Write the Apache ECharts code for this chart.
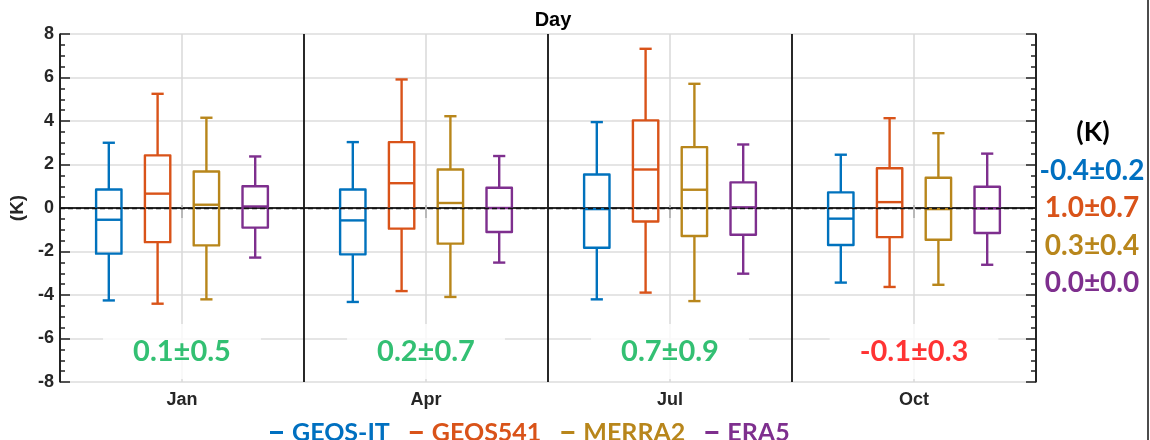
<!DOCTYPE html>
<html><head><meta charset="utf-8">
<script src="https://cdn.jsdelivr.net/npm/echarts@6/dist/echarts.min.js"></script>
<style>html,body{margin:0;padding:0;background:#fff}#c{width:1150px;height:440px}</style>
</head><body><div id="c"></div>
<script>
// ---------- data ----------
const months = ['Jan', 'Apr', 'Jul', 'Oct'];
const seriesNames = ['GEOS-IT', 'GEOS541', 'MERRA2', 'ERA5'];
const yTicks = [-8, -6, -4, -2, 0, 2, 4, 6, 8];
// each entry: [lower whisker, Q1, median, Q3, upper whisker] per month
const geosIT  = [[-4.25, -2.10, -0.54, 0.85, 3.00], [-4.32, -2.13, -0.57, 0.85, 3.03], [-4.20, -1.83, -0.05, 1.54, 3.95], [-3.43, -1.70, -0.49, 0.72, 2.45]];
const geos541 = [[-4.40, -1.57, 0.66, 2.42, 5.25], [-3.82, -0.95, 1.14, 3.03, 5.91], [-3.89, -0.62, 1.77, 4.03, 7.32], [-3.63, -1.34, 0.27, 1.83, 4.13]];
const merra2  = [[-4.20, -1.72, 0.15, 1.68, 4.15], [-4.09, -1.64, 0.23, 1.77, 4.22], [-4.28, -1.29, 0.84, 2.80, 5.71], [-3.53, -1.46, -0.05, 1.39, 3.44]];
const era5    = [[-2.28, -0.90, 0.07, 1.00, 2.37], [-2.51, -1.10, 0.00, 0.93, 2.39], [-3.02, -1.23, 0.03, 1.18, 2.92], [-2.61, -1.15, -0.02, 0.98, 2.50]];
const panelStats  = ['0.1±0.5', '0.2±0.7', '0.7±0.9', '-0.1±0.3'];
const seriesStats = ['-0.4±0.2', '1.0±0.7', '0.3±0.4', '0.0±0.0'];
const statsUnit = '(K)';
const titleText = 'Day';

// ---------- styles ----------
const seriesColors = ['#0072BD', '#D95319', '#B8861B', '#7E2F8E'];
const legendColors = ['#0070C0', '#D95319', '#B8861B', '#7E2F8E'];
const panelStatColors = ['#00B050', '#00B050', '#00B050', '#FF0000'];
const allData = [geosIT, geos541, merra2, era5];
const AX = '#222';
const LBL = '#262626';
const AXIS_FONT = '"Liberation Sans", Arial, sans-serif';
const ANNOT_FONT = 'Lato, "Open Sans", sans-serif';

function makeBox(idx) {
  return {
    name: seriesNames[idx],
    type: 'custom',
    xAxisIndex: 0, yAxisIndex: 0,
    z: 3,
    silent: true,
    itemStyle: { color: seriesColors[idx] },
    encode: { x: 0, y: [1, 2, 3, 4, 5] },
    data: allData[idx].map((v, i) => [i].concat(v)),
    renderItem: function (params, api) {
      const ci = api.value(0);
      const bw = api.size([1, 0])[0];
      const x = api.coord([ci, 0])[0] + (idx - 1.5) * bw * 0.2;
      const py = k => api.coord([ci, api.value(k)])[1];
      const yl = py(1), q1 = py(2), md = py(3), q3 = py(4), yh = py(5);
      const hw = bw * 0.052, cw = bw * 0.025;
      const st = { stroke: seriesColors[idx], lineWidth: 2.4, fill: 'none', lineJoin: 'round' };
      return {
        type: 'group',
        children: [
          { type: 'line', shape: { x1: x, y1: yh, x2: x, y2: q3 }, style: st },
          { type: 'line', shape: { x1: x, y1: q1, x2: x, y2: yl }, style: st },
          { type: 'line', shape: { x1: x - cw, y1: yh, x2: x + cw, y2: yh }, style: st },
          { type: 'line', shape: { x1: x - cw, y1: yl, x2: x + cw, y2: yl }, style: st },
          { type: 'rect', shape: { x: x - hw, y: q3, width: 2 * hw, height: q1 - q3 }, style: st },
          { type: 'line', shape: { x1: x - hw, y1: md, x2: x + hw, y2: md }, style: st }
        ]
      };
    }
  };
}

const chart = echarts.init(document.getElementById('c'), null, { renderer: 'canvas' });

const series = [
  {
    name: '__ref', type: 'line', data: [], z: 1, silent: true,
    markLine: {
      silent: true, symbol: ['none', 'none'], label: { show: false },
      data: months.map(m => ({ xAxis: m, lineStyle: { color: '#d9d9d9', width: 1.5, type: 'solid' } }))
        .concat([{ yAxis: 0, lineStyle: { color: '#111', width: 1.3, type: [5, 3] } }])
    }
  }
].concat(seriesNames.map((n, i) => makeBox(i))).concat([
  {
    name: '__stats', type: 'scatter', z: 10, silent: true,
    symbolSize: 1, itemStyle: { color: 'rgba(0,0,0,0)' },
    data: months.map((m, i) => ({ value: [m, -6.6], label: { color: panelStatColors[i] } })),
    label: {
      show: true, position: 'inside',
      formatter: p => panelStats[p.dataIndex],
      fontFamily: ANNOT_FONT, fontWeight: 'bold', fontSize: 29,
      backgroundColor: '#fff', padding: [13, 30]
    }
  }
]);

const yAxisCommon = {
  type: 'value', min: yTicks[0], max: yTicks[yTicks.length - 1], interval: yTicks[1] - yTicks[0],
  axisLine: { show: true, lineStyle: { color: AX, width: 1.5 } },
  axisTick: { show: true, inside: true, length: 10, lineStyle: { color: AX, width: 1.5 } },
  minorTick: { show: true, splitNumber: 4, length: 5, lineStyle: { color: AX, width: 1.5 } }
};

chart.setOption({
  animation: false,
  backgroundColor: '#fff',
  title: {
    text: titleText, left: 548, top: 5, textAlign: 'center',
    textStyle: { fontSize: 20, fontWeight: 'bold', color: '#000', fontFamily: AXIS_FONT }
  },
  grid: { left: 60, right: 114, top: 34, bottom: 58, containLabel: false },
  xAxis: [
    {
      type: 'category', data: months, position: 'bottom', boundaryGap: true,
      axisLine: { show: true, lineStyle: { color: AX, width: 1.5 } },
      axisTick: { show: true, inside: true, alignWithLabel: true, length: 3, lineStyle: { color: AX, width: 1.5 } },
      axisLabel: { fontSize: 18, fontWeight: 'bold', color: LBL, margin: 9, fontFamily: AXIS_FONT },
      splitLine: { show: true, interval: 0, lineStyle: { color: '#111', width: 1.8 } }
    },
    {
      type: 'category', data: months, position: 'top', boundaryGap: true,
      axisLine: { show: true, lineStyle: { color: AX, width: 1.5 } },
      axisTick: { show: true, inside: true, alignWithLabel: true, length: 10, lineStyle: { color: AX, width: 1.5 } },
      axisLabel: { show: false },
      splitLine: { show: false }
    }
  ],
  yAxis: [
    Object.assign({}, yAxisCommon, {
      position: 'left',
      name: statsUnit, nameLocation: 'middle', nameGap: 27,
      nameTextStyle: { fontSize: 19, fontWeight: 'bold', color: LBL, fontFamily: AXIS_FONT },
      axisLabel: { fontSize: 18, fontWeight: 'bold', color: LBL, margin: 6, fontFamily: AXIS_FONT },
      splitLine: { show: true, lineStyle: { color: '#dcdcdc', width: 1.5 } }
    }),
    Object.assign({}, yAxisCommon, {
      position: 'right',
      axisLabel: { show: false },
      splitLine: { show: false }
    })
  ],
  legend: {
    left: 265, top: 415,
    icon: 'rect', itemWidth: 13, itemHeight: 3, itemGap: 20,
    selectedMode: false,
    data: seriesNames.map((n, i) => ({ name: n, itemStyle: { color: legendColors[i], borderWidth: 0 }, textStyle: { color: legendColors[i] } })),
    textStyle: { fontSize: 25, fontWeight: 'bold', fontFamily: ANNOT_FONT, padding: [0, 0, 0, 4] }
  },
  graphic: [
    {
      type: 'text', x: 1093, y: 132, silent: true,
      style: { text: statsUnit, textAlign: 'center', align: 'center', textVerticalAlign: 'middle', verticalAlign: 'middle',
               fill: '#000', fontSize: 27, fontWeight: 'bold', fontFamily: ANNOT_FONT }
    }
  ].concat(seriesStats.map((s, i) => ({
    type: 'text', x: 1092, y: 171 + i * 37.3, silent: true,
    style: { text: s, textAlign: 'center', align: 'center', textVerticalAlign: 'middle', verticalAlign: 'middle',
             fill: legendColors[i], fontSize: 28, fontWeight: 'bold', fontFamily: ANNOT_FONT }
  }))).concat([
    { type: 'line', silent: true, shape: { x1: 1148, y1: 0, x2: 1148, y2: 440 }, style: { stroke: '#111', lineWidth: 1.5 } }
  ]),
  series: series
});
</script>
</body></html>
